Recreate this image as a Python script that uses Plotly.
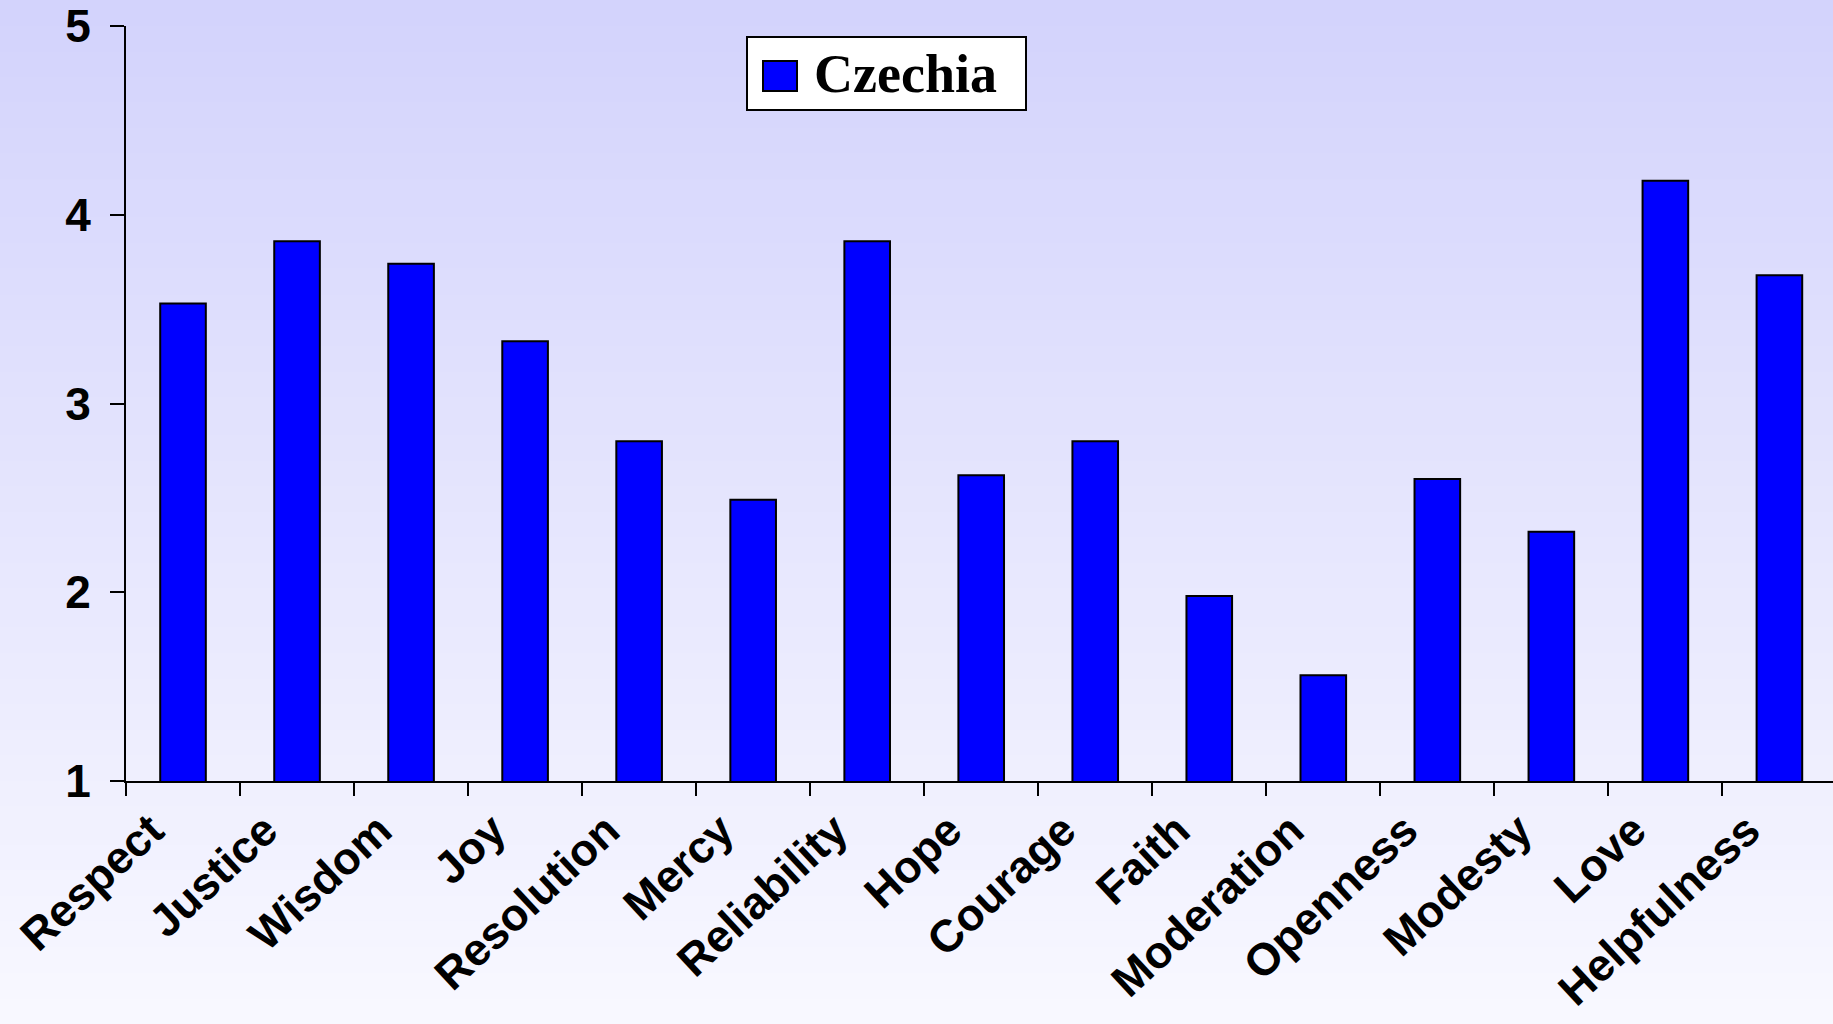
import plotly.graph_objects as go

# values
virtues = ['Respect', 'Justice', 'Wisdom', 'Joy', 'Resolution', 'Mercy',
           'Reliability', 'Hope', 'Courage', 'Faith', 'Moderation',
           'Openness', 'Modesty', 'Love', 'Helpfulness']
czechia = [3.53, 3.86, 3.74, 3.33, 2.80, 2.49, 3.86, 2.62, 2.80, 1.98,
           1.56, 2.60, 2.32, 4.18, 3.68]
series_name = 'Czechia'
y_ticks = [1, 2, 3, 4, 5]

W, H = 1833, 1024
ML, MR, MT, MB = 126, 0, 26, 243
PW, PH = W - ML - MR, H - MT - MB


def to_paper(x, y):
    # pixel position on the page -> paper coords
    return (x - ML) / PW, (H - MB - y) / PH


fig = go.Figure()
fig.add_trace(go.Bar(
    x=virtues, y=czechia, name=series_name,
    width=0.4,
    marker=dict(color='#0000ff', line=dict(color='black', width=2)),
    showlegend=False,
))

shapes = []
# background gradient, lavender on top fading to near white
top_c = (211, 211, 252)
bot_c = (248, 248, 255)
n = 80
for i in range(n):
    t = i / (n - 1)
    c = tuple(round(top_c[k] + (bot_c[k] - top_c[k]) * t) for k in range(3))
    x0, y0 = to_paper(0, H * i / n)
    x1, y1 = to_paper(W, H * (i + 1) / n + 1)
    shapes.append(dict(type='rect', xref='paper', yref='paper',
                       x0=x0, x1=x1, y0=y1, y1=y0, layer='below',
                       fillcolor='rgb(%d,%d,%d)' % c, line=dict(width=0)))

# legend box drawn by hand so the symbol can be as big as in the original
bx0, by0 = to_paper(747, 37)
bx1, by1 = to_paper(1026, 110)
shapes.append(dict(type='rect', xref='paper', yref='paper',
                   x0=bx0, x1=bx1, y0=by1, y1=by0,
                   fillcolor='white', line=dict(color='black', width=2)))
sx0, sy0 = to_paper(763, 61)
sx1, sy1 = to_paper(797, 91)
shapes.append(dict(type='rect', xref='paper', yref='paper',
                   x0=sx0, x1=sx1, y0=sy1, y1=sy0,
                   fillcolor='#0000ff', line=dict(color='black', width=2)))
tx, ty = to_paper(812, 74)

tick_font = dict(family='Liberation Sans, Arial, sans-serif', size=46,
                 color='black', weight='bold')
cat_font = dict(tick_font, size=45)

fig.update_layout(
    width=W, height=H,
    margin=dict(l=ML, r=MR, t=MT, b=MB, autoexpand=False),
    paper_bgcolor='rgb(230,230,253)',
    plot_bgcolor='rgba(0,0,0,0)',
    shapes=shapes,
    annotations=[dict(text='<b>' + series_name + '</b>', xref='paper', yref='paper',
                      x=tx, y=ty, xanchor='left', yanchor='middle', showarrow=False,
                      font=dict(family='Liberation Serif, Times New Roman, serif',
                                size=54, color='black'))],
    bargap=0.6,
)
fig.update_xaxes(
    range=[-0.5, 14.47],
    tickangle=-43,
    tickson='boundaries',
    ticks='outside', ticklen=13, tickwidth=2, tickcolor='black',
    ticklabelshift=-32, ticklabelstandoff=3,
    showline=True, linecolor='black', linewidth=2,
    showgrid=False, automargin=False,
    tickfont=cat_font,
)
fig.update_yaxes(
    range=[1, 5], tickvals=y_ticks,
    ticks='outside', ticklen=14, tickwidth=2, tickcolor='black',
    ticklabelstandoff=10,
    showline=True, linecolor='black', linewidth=2,
    showgrid=False, zeroline=False, automargin=False,
    tickfont=tick_font,
)

fig.write_html("out.html", config={'displayModeBar': False},
               post_script="document.body.style.margin='0';")
